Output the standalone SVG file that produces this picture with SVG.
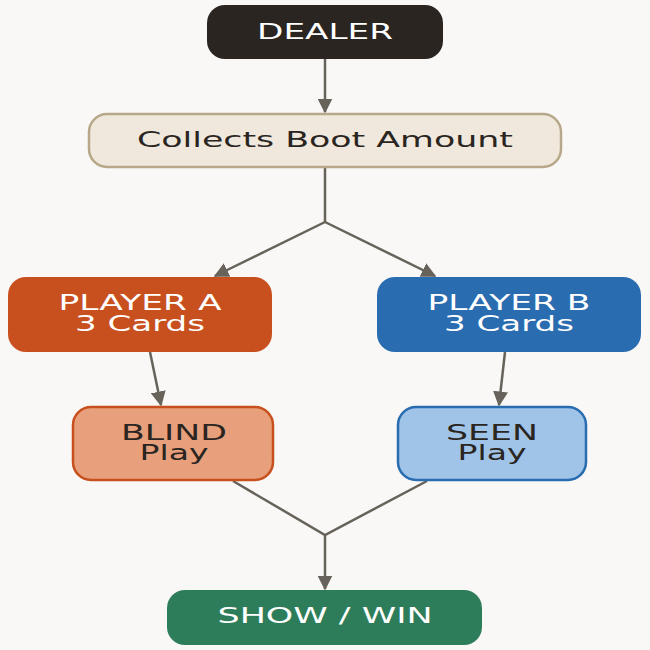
<svg xmlns="http://www.w3.org/2000/svg" width="650" height="650" viewBox="0 0 650 650">
<style>
text{font-family:"DejaVu Sans",sans-serif;font-size:21px;text-anchor:middle;lengthAdjust:spacingAndGlyphs}
.w{fill:#ffffff}.d{fill:#2a2521}
.c{stroke:#67625a;stroke-width:2.5;fill:none}
</style>
<defs><marker id="a" viewBox="0 0 10 10" refX="9" refY="5" markerWidth="6" markerHeight="6" orient="auto"><path d="M0,0L10,5L0,10z" fill="#67625a"/></marker></defs>
<rect width="650" height="650" fill="#f9f8f6"/>
<g id="connectors">
<line class="c" x1="325" y1="59" x2="325" y2="112" marker-end="url(#a)"/>
<polyline class="c" points="325,167 325,222"/>
<line class="c" x1="325" y1="222" x2="215" y2="276" marker-end="url(#a)"/>
<line class="c" x1="325" y1="222" x2="435" y2="276" marker-end="url(#a)"/>
<line class="c" x1="150" y1="352" x2="161" y2="405" marker-end="url(#a)"/>
<line class="c" x1="505" y1="352" x2="499" y2="405" marker-end="url(#a)"/>
<polyline class="c" points="233,481 325,535 427,481"/>
<line class="c" x1="325" y1="535" x2="325" y2="589" marker-end="url(#a)"/>
</g>
<g id="dealer"><rect x="207" y="5" width="236" height="54" rx="18" fill="#2a2521"/><text class="w" x="325" y="39" textLength="136" lengthAdjust="spacingAndGlyphs">DEALER</text></g>
<g id="boot"><rect x="89" y="114" width="472" height="53" rx="18" fill="#f0e8dc" stroke="#b8a88a" stroke-width="2.5"/><text class="d" x="325" y="147" textLength="376" lengthAdjust="spacingAndGlyphs">Collects Boot Amount</text></g>
<g id="playerA"><rect x="8" y="277" width="264" height="75" rx="18" fill="#c8501e"/><text class="w" x="140" y="310" textLength="163" lengthAdjust="spacingAndGlyphs">PLAYER A</text><text class="w" x="140" y="331" textLength="130" lengthAdjust="spacingAndGlyphs">3 Cards</text></g>
<g id="playerB"><rect x="377" y="277" width="264" height="75" rx="18" fill="#2a6cb0"/><text class="w" x="509" y="310" textLength="163" lengthAdjust="spacingAndGlyphs">PLAYER B</text><text class="w" x="509" y="331" textLength="130" lengthAdjust="spacingAndGlyphs">3 Cards</text></g>
<g id="blind"><rect x="73" y="407" width="200" height="73" rx="18" fill="#e8a07c" stroke="#c8501e" stroke-width="2.5"/><text class="d" x="174" y="440" textLength="106" lengthAdjust="spacingAndGlyphs">BLIND</text><text class="d" x="174" y="460" textLength="69" lengthAdjust="spacingAndGlyphs">Play</text></g>
<g id="seen"><rect x="398" y="407" width="188" height="73" rx="18" fill="#a0c4e8" stroke="#2a6cb0" stroke-width="2.5"/><text class="d" x="492" y="440" textLength="92" lengthAdjust="spacingAndGlyphs">SEEN</text><text class="d" x="492" y="460" textLength="69" lengthAdjust="spacingAndGlyphs">Play</text></g>
<g id="show"><rect x="167" y="590" width="315" height="55" rx="18" fill="#2e7d5a"/><text class="w" x="325" y="623" textLength="215" lengthAdjust="spacingAndGlyphs">SHOW / WIN</text></g>
</svg>
